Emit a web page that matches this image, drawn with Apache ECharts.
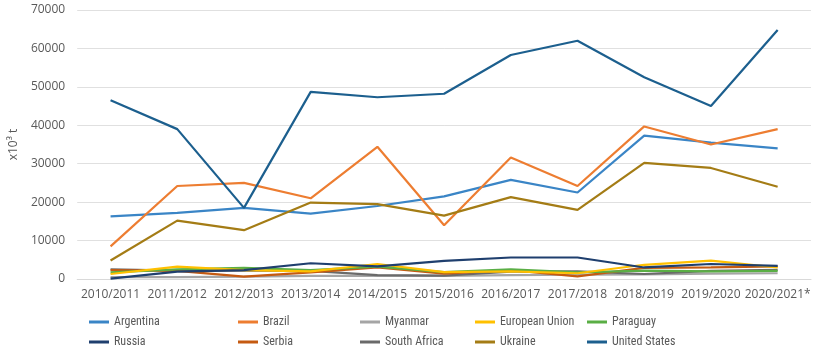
<!DOCTYPE html>
<html>
<head>
<meta charset="utf-8">
<script src="https://cdn.jsdelivr.net/npm/echarts@6/dist/echarts.min.js"></script>
<style>html,body{margin:0;padding:0;background:#fff}#c{width:820px;height:357px}</style>
</head>
<body>
<div id="c"></div>
<script>
var categories = ["2010/2011","2011/2012","2012/2013","2013/2014","2014/2015","2015/2016","2016/2017","2017/2018","2018/2019","2019/2020","2020/2021*"];
var yTicks = [0,10000,20000,30000,40000,50000,60000,70000];
var argentina = [16300,17200,18500,17000,19000,21500,25800,22500,37300,35500,34000];
var brazil = [8500,24200,25000,21000,34400,14000,31600,24200,39700,35000,39000];
var myanmar = [500,500,600,800,800,800,1000,1100,1200,1400,1500];
var europeanUnion = [1300,3200,2300,2000,3900,1800,2000,1500,3700,4800,3000];
var paraguay = [1700,2500,2900,2300,3200,1800,2500,1700,2200,2000,2100];
var russia = [100,1900,2300,4100,3300,4700,5600,5600,3000,3900,3400];
var serbia = [2300,2100,600,1700,3000,1400,2300,700,2900,3000,3300];
var southAfrica = [2500,2200,2200,2100,1000,900,1900,2000,1300,2100,2400];
var ukraine = [4800,15200,12700,19900,19500,16500,21300,18000,30200,28900,24000];
var unitedStates = [46500,39000,18500,48700,47300,48200,58300,62000,52500,45000,64800];

var seriesDefs = [
  ["Argentina", argentina, "#3a85c6"],
  ["Brazil", brazil, "#ed7d31"],
  ["Myanmar", myanmar, "#a5a5a5"],
  ["European Union", europeanUnion, "#ffc000"],
  ["Paraguay", paraguay, "#5aae45"],
  ["Russia", russia, "#1f3f6e"],
  ["Serbia", serbia, "#c55a11"],
  ["South Africa", southAfrica, "#6a6a6a"],
  ["Ukraine", ukraine, "#a47c15"],
  ["United States", unitedStates, "#1c5f8e"]
];
var drawOrder = ["Argentina","Brazil","Myanmar","South Africa","Serbia","Paraguay","European Union","Russia","Ukraine","United States"];

var chart = echarts.init(document.getElementById('c'), null, {renderer:'canvas'});
var series = drawOrder.map(function(n){
  var d = seriesDefs.filter(function(s){return s[0]===n;})[0];
  return {name:d[0], type:'line', data:d[1], showSymbol:false, symbol:'none',
    lineStyle:{width:2.2,color:d[2]}, itemStyle:{color:d[2]}, animation:false};
});
var legendCols = [0,1,2,3,4];
var legendLefts = [84,233,355,470,582];
var legends = legendCols.map(function(i){
  return {orient:'vertical', left:legendLefts[i], top:311, itemGap:8,
    data:[seriesDefs[i][0], seriesDefs[i+5][0]],
    icon:'rect', itemWidth:20, itemHeight:3,
    textStyle:{fontFamily:'"Liberation Sans Narrow","Roboto Condensed","DejaVu Sans Condensed",sans-serif', fontSize:12, color:'#595959'},
    selectedMode:false};
});
chart.setOption({
  backgroundColor:'#fff',
  animation:false,
  grid:{left:74, right:9, top:10, bottom:78},
  legend:legends,
  xAxis:{type:'category', data:categories, boundaryGap:true,
    axisLine:{show:true,lineStyle:{color:'#d9d9d9'}}, axisTick:{show:false},
    axisLabel:{color:'#595959', fontSize:12, fontFamily:'"Open Sans",Arial,sans-serif', margin:10, interval:0}},
  yAxis:{type:'value', min:yTicks[0], max:yTicks[yTicks.length-1], interval:10000,
    name:'x10³ t', nameLocation:'middle', nameGap:57, nameRotate:90,
    nameTextStyle:{color:'#595959', fontSize:12, fontFamily:'"Open Sans",Arial,sans-serif'},
    axisLine:{show:false}, axisTick:{show:false},
    splitLine:{lineStyle:{color:'#e0e0e0'}},
    axisLabel:{color:'#595959', fontSize:12, fontFamily:'"Open Sans",Arial,sans-serif', margin:12,
      formatter:function(v){return String(v);}}},
  series:series
});
</script>
</body>
</html>
